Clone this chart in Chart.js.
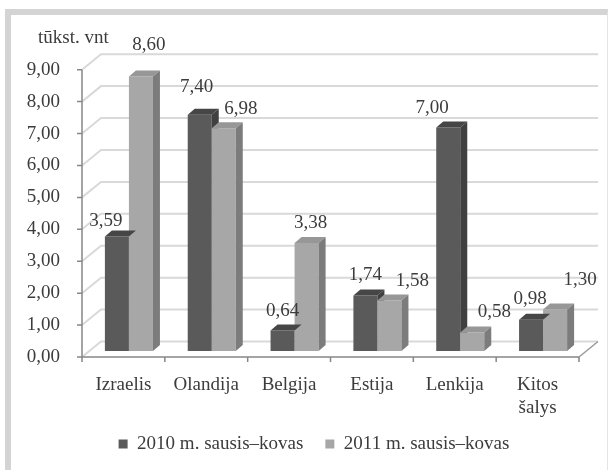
<!DOCTYPE html>
<html>
<head>
<meta charset="utf-8">
<script src="https://cdn.jsdelivr.net/npm/chart.js@4"></script>
<style>
  html, body { margin: 0; padding: 0; background: #fff; overflow: hidden; width: 609px; height: 470px; }
  #frame { position: absolute; left: 5px; top: 9px; right: 1px; bottom: -30px;
           border-left: 6px solid #d4d4d4; border-top: 6px solid #d4d4d4; border-right: 1px solid #e4e4e4; }
  #chart { position: absolute; left: 0; top: 0; }
</style>
</head>
<body>
<div id="frame"></div>
<canvas id="chart" width="609" height="490"></canvas>
<script>
const categories = ['Izraelis', 'Olandija', 'Belgija', 'Estija', 'Lenkija', ['Kitos', 'šalys']];
const seriesNames = ['2010 m. sausis–kovas', '2011 m. sausis–kovas'];
const values2010 = [3.59, 7.40, 0.64, 1.74, 7.00, 0.98];
const values2011 = [8.60, 6.98, 3.38, 1.58, 0.58, 1.30];
const yTickLabels = ['0,00', '1,00', '2,00', '3,00', '4,00', '5,00', '6,00', '7,00', '8,00', '9,00'];

// label nudges (px) to mimic the 3D label placement of the original
const labelShift = [
    [[-11, -15], [-3, -28], [0, -20], [0, -20], [-16, -20], [-1, -21]],
    [[8, -31], [17, -19], [4, -20], [23, -20], [22, -20], [25, -29]]
];

const FONT = '"Liberation Serif", "Times New Roman", serif';
const TEXT = '#3c3c3c';
const FRONT = { dx: -5.5, dy: 6 };   // front plane relative to bar plane
const BACK = { dx: 13.5, dy: -9.5 }; // back wall relative to bar plane
const CAP = { dx: 7, dy: -6 };       // bar depth
const faces = [
    { top: '#464646', side: '#404040' },
    { top: '#979797', side: '#7c7c7c' }
];

const fmt = v => v.toFixed(2).replace('.', ',');
const noLabelClip = s => { s._computeLabelArea = () => undefined; };

const walls = {
    id: 'walls',
    beforeDatasetsDraw(chart) {
        const { ctx, chartArea: a, scales: { y } } = chart;
        const fl = a.left + FRONT.dx, fr = a.right + FRONT.dx;
        const bl = a.left + BACK.dx, br = a.right + BACK.dx;
        ctx.save();
        ctx.strokeStyle = '#d9d9d9';
        ctx.lineWidth = 2;
        y.ticks.forEach(t => {
            const py = y.getPixelForValue(t.value);
            ctx.beginPath();
            ctx.moveTo(fl, py + FRONT.dy);
            ctx.lineTo(bl, py + BACK.dy);
            ctx.lineTo(br, py + BACK.dy);
            ctx.stroke();
        });
        const y0 = y.getPixelForValue(0);
        ctx.strokeStyle = '#9a9a9a';
        ctx.lineWidth = 1.5;
        ctx.beginPath();
        ctx.moveTo(fr, y0 + FRONT.dy);
        ctx.lineTo(br, y0 + BACK.dy);
        ctx.stroke();
        // axes on the front plane
        ctx.strokeStyle = '#878787';
        ctx.beginPath();
        ctx.moveTo(fl, y.getPixelForValue(9) + FRONT.dy);
        ctx.lineTo(fl, y0 + FRONT.dy);
        ctx.lineTo(fr, y0 + FRONT.dy);
        y.ticks.forEach(t => {
            const py = y.getPixelForValue(t.value) + FRONT.dy;
            ctx.moveTo(fl - 5, py);
            ctx.lineTo(fl, py);
        });
        const step = (a.right - a.left) / categories.length;
        for (let i = 0; i <= categories.length; i++) {
            const px = a.left + i * step + FRONT.dx;
            ctx.moveTo(px, y0 + FRONT.dy);
            ctx.lineTo(px, y0 + FRONT.dy + 5);
        }
        ctx.stroke();
        ctx.restore();
    }
};

function poly(ctx, pts, color) {
    ctx.beginPath();
    ctx.moveTo(pts[0][0], pts[0][1]);
    for (let i = 1; i < pts.length; i++) ctx.lineTo(pts[i][0], pts[i][1]);
    ctx.closePath();
    ctx.fillStyle = color;
    ctx.fill();
}

const bars3d = {
    id: 'bars3d',
    afterDatasetsDraw(chart) {
        const { ctx } = chart;
        const m0 = chart.getDatasetMeta(0).data, m1 = chart.getDatasetMeta(1).data;
        ctx.save();
        categories.forEach((c, i) => {
            [m0[i], m1[i]].forEach((bar, s) => {
                const p = bar.getProps(['x', 'y', 'base', 'width'], true);
                const l = p.x - p.width / 2, r = p.x + p.width / 2;
                poly(ctx, [[l, p.y], [l + CAP.dx, p.y + CAP.dy], [r + CAP.dx, p.y + CAP.dy], [r, p.y]], faces[s].top);
                ctx.save();
                if (s === 0) {
                    const ly = m1[i].getProps(['y'], true).y;
                    ctx.beginPath();
                    ctx.rect(0, 0, chart.width, ly);
                    ctx.clip();
                }
                poly(ctx, [[r, p.y], [r + CAP.dx, p.y + CAP.dy], [r + CAP.dx, p.base + CAP.dy], [r, p.base]], faces[s].side);
                ctx.restore();
            });
        });
        ctx.restore();
    }
};

const valueLabels = {
    id: 'valueLabels',
    afterDraw(chart) {
        const { ctx } = chart;
        ctx.save();
        ctx.font = '19px ' + FONT;
        ctx.fillStyle = TEXT;
        ctx.textAlign = 'center';
        ctx.textBaseline = 'middle';
        chart.data.datasets.forEach((ds, s) => {
            chart.getDatasetMeta(s).data.forEach((bar, i) => {
                const p = bar.getProps(['x', 'y'], true);
                ctx.fillText(fmt(ds.data[i]), p.x + labelShift[s][i][0], p.y + labelShift[s][i][1]);
            });
        });
        ctx.textAlign = 'left';
        ctx.fillText('tūkst. vnt', 38, 38);
        ctx.restore();
    }
};

new Chart(document.getElementById('chart'), {
    type: 'bar',
    data: {
        labels: categories,
        datasets: [
            { label: seriesNames[0], data: values2010, backgroundColor: '#5a5a5a' },
            { label: seriesNames[1], data: values2011, backgroundColor: '#a7a7a7' }
        ]
    },
    options: {
        responsive: false,
        animation: false,
        events: [],
        layout: { padding: { left: 43.5, right: 24.5, top: 63.7, bottom: 26.5 } },
        datasets: { bar: { categoryPercentage: 0.58, barPercentage: 1.0, borderWidth: 0 } },
        scales: {
            x: {
                grid: { display: false, drawTicks: false },
                border: { display: false },
                ticks: { font: { family: FONT, size: 19 }, color: TEXT, padding: 22.5, labelOffset: -5.5, maxRotation: 0 },
                afterFit: s => { s.height = 61.5; },
                afterUpdate: noLabelClip
            },
            y: {
                min: 0,
                max: 9,
                grid: { display: false, drawTicks: false },
                border: { display: false },
                ticks: {
                    stepSize: 1,
                    font: { family: FONT, size: 19 },
                    color: TEXT,
                    padding: 27.5,
                    labelOffset: 6,
                    callback: (v, i) => yTickLabels[i]
                },
                afterFit: s => { s.width = 44; },
                afterUpdate: noLabelClip
            }
        },
        plugins: {
            legend: {
                position: 'bottom',
                labels: { font: { family: FONT, size: 19 }, color: TEXT, boxWidth: 9, boxHeight: 9, padding: 22 }
            },
            tooltip: { enabled: false }
        }
    },
    plugins: [walls, bars3d, valueLabels]
});
</script>
</body>
</html>
